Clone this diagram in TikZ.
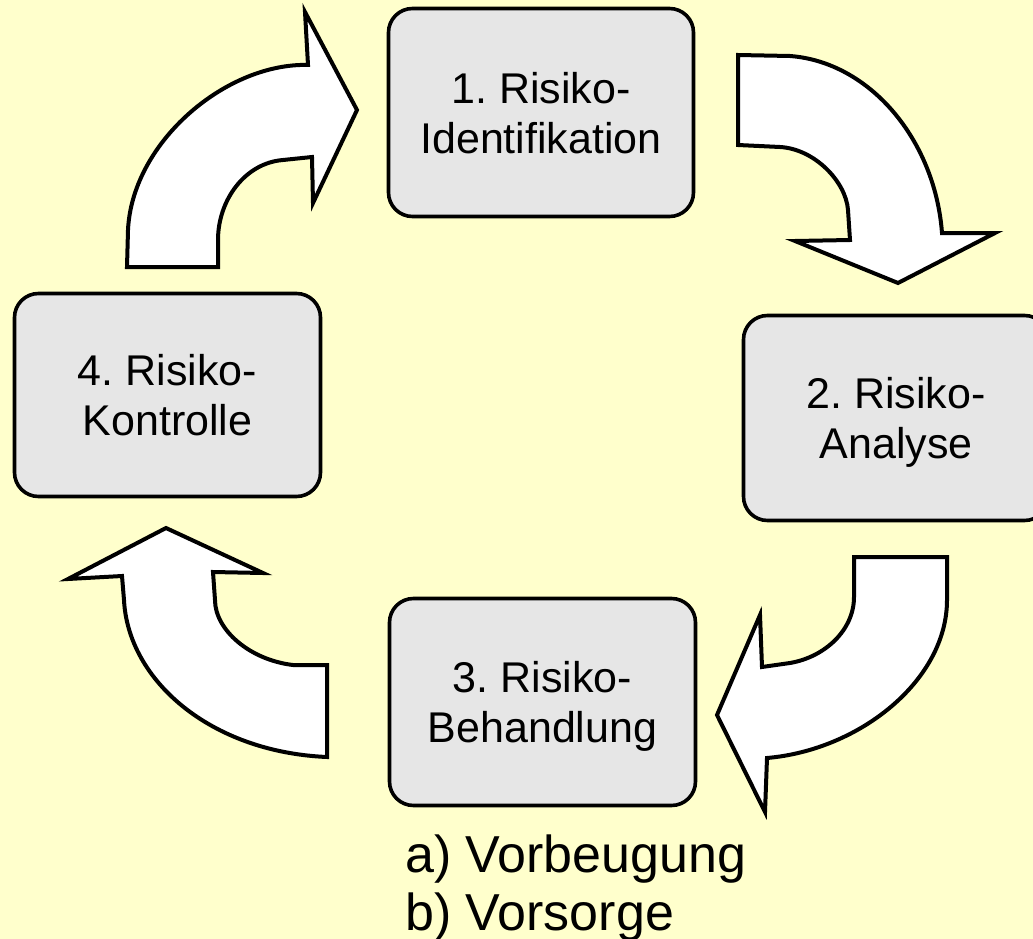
\documentclass[tikz,border=0pt]{standalone}
\usepackage{fontspec}
\setmainfont{Liberation Sans}
\frenchspacing
\definecolor{bgyellow}{HTML}{FFFFCC}
\definecolor{boxgray}{HTML}{E6E6E6}
\begin{document}
\begin{tikzpicture}[x=1pt,y=-1pt,
  stepbox/.style={draw=black, line width=3.6pt, fill=boxgray, rounded corners=24pt,
    align=center, font=\fontsize{43}{50}\selectfont, text depth=0pt, inner sep=0pt},
  bigarrow/.style={draw=black, fill=white, line width=4pt, line join=miter},
  listtext/.style={font=\fontsize{52}{60}\selectfont, anchor=base west, inner sep=0pt}]
\useasboundingbox (0,0) rectangle (1033,939);
\fill[bgyellow] (0,0) rectangle (1033,939);
\clip (0,0) rectangle (1033,939);

% boxes
\node[stepbox, minimum width=305pt, minimum height=208pt] (s1) at (541,112.5) {1. Risiko-\\Identifikation};
\node[stepbox, minimum width=305pt, minimum height=205pt] (s2) at (896,418) {2. Risiko-\\Analyse};
\node[stepbox, minimum width=306pt, minimum height=207pt] (s3) at (542.5,702) {3. Risiko-\\Behandlung};
\node[stepbox, minimum width=306pt, minimum height=203pt] (s4) at (167.5,395) {4. Risiko-\\Kontrolle};

% list under box 3
\node[listtext] (la) at (405,872) {a) Vorbeugung};
\node[listtext] (lb) at (405,930) {b) Vorsorge};

% arrow 4 -> 1 (top left)
\draw[bigarrow] (127,267) -- (218,267) -- (218,240)
  .. controls (218,200) and (245,163) .. (283,160) -- (312,157)
  -- (313,203) -- (357,110) -- (305,12) -- (308,65) -- (300,65)
  .. controls (220,68) and (132,145) .. (128,230) -- cycle;

% arrow 1 -> 2 (top right)
\draw[bigarrow] (738,55) -- (790,56)
  .. controls (870,62) and (935,140) .. (942,233)
  -- (995,233) -- (898,283) -- (795,241) -- (850,240) -- (848,210)
  .. controls (846,182) and (815,149) .. (780,147) -- (738,145) -- cycle;

% arrow 2 -> 3 (bottom right)
\draw[bigarrow] (854,557) -- (947,557) -- (947,600)
  .. controls (947,680) and (860,750) .. (767,758)
  -- (765,812) -- (717,715) -- (760,615) -- (762,667) -- (790,663)
  .. controls (825,657) and (854,630) .. (854,597) -- cycle;

% arrow 3 -> 4 (bottom left)
\draw[bigarrow] (327,757) -- (327,665) -- (293,665)
  .. controls (250,660) and (215,630) .. (215,600)
  -- (213,572) -- (263,573) -- (166,528) -- (68,579) -- (122,576) -- (124,600)
  .. controls (128,680) and (210,752) .. (327,757) -- cycle;
\end{tikzpicture}
\end{document}
